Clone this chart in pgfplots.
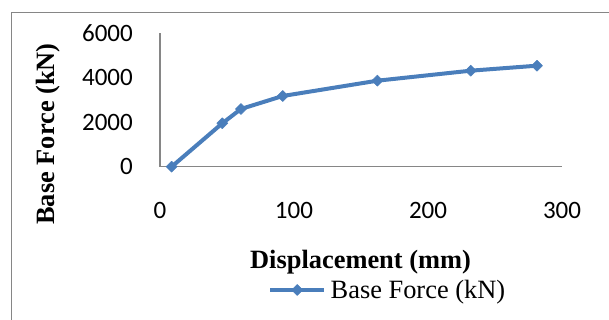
\documentclass[border=0pt]{standalone}
\usepackage{pgfplots}
\pgfplotsset{compat=1.18}
\usepackage{fontspec}
\setmainfont{Liberation Serif}
\newfontfamily\calibri{Carlito}
\definecolor{excelblue}{RGB}{74,126,187}
\definecolor{axisgray}{RGB}{134,134,134}
\begin{document}
\begin{tikzpicture}
\useasboundingbox (0pt,0pt) rectangle (609pt,-320pt);
\draw[axisgray, line width=1.5pt] (11.5pt,-330pt) -- (11.5pt,-12.7pt) -- (620pt,-12.7pt);
\begin{axis}[
  at={(160pt,-166.7pt)}, anchor=south west,
  scale only axis, width=402pt, height=133.7pt,
  xmin=0, xmax=300, ymin=0, ymax=6000,
  xtick={0,100,200,300}, ytick={0,2000,4000,6000},
  axis x line*=bottom, axis y line*=left,
  axis line style={axisgray, line width=1.5pt, -},
  major tick length=0pt,
  tick label style={font=\calibri\fontsize{25}{30}\selectfont},
  /pgf/number format/assume math mode=true,
  /pgf/number format/1000 sep={},
  scaled y ticks=false, scaled x ticks=false,
  yticklabel style={anchor=east, inner sep=0pt, xshift=-27pt},
  xticklabel style={anchor=base, inner sep=0pt, yshift=-51.3pt},
  xlabel={Displacement (mm)},
  xlabel style={at={(axis description cs:0.4988,-0.765)}, anchor=base, inner sep=0pt, font=\bfseries\fontsize{26.4}{30}\selectfont},
  ylabel={Base Force (kN)},
  ylabel style={at={(axis description cs:-0.2774,0.2446)}, anchor=center, inner sep=0pt, font=\bfseries\fontsize{26.4}{30}\selectfont},
  legend style={at={(axis description cs:0.2687,-0.922)}, anchor=west, draw=none, fill=none, inner sep=0pt,
    nodes={inner sep=0pt}, font=\fontsize{26.4}{30}\selectfont,
    /tikz/every odd column/.style={column sep=4.5pt}},
  legend image code/.code={\draw[mark repeat=2,mark phase=2,#1] plot coordinates {(0pt,0pt) (27pt,0pt) (54pt,0pt)};},
]
\addplot[color=excelblue, line width=4pt, line join=round, mark=square*, mark size=3.9pt,
  mark options={rotate=45, solid, line width=0.5pt, fill=excelblue}]
  coordinates {(8.7,0) (46.5,1948) (60.4,2590) (91.6,3173) (162.2,3860) (231.9,4309) (281.3,4533)};
\addlegendentry{Base Force (kN)}
\end{axis}
\end{tikzpicture}
\end{document}
